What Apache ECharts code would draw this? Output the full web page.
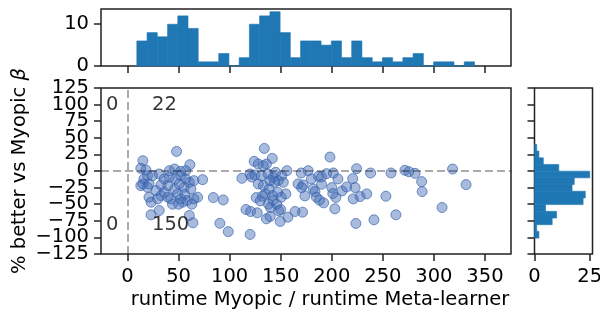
<!DOCTYPE html>
<html><head><meta charset="utf-8">
<script src="https://cdn.jsdelivr.net/npm/echarts@6/dist/echarts.min.js"></script>
<style>html,body{margin:0;padding:0;background:#fff}#c{width:600px;height:314px}</style>
</head><body><div id="c"></div>
<script>
// ---- data ----
const xTicks = [0, 50, 100, 150, 200, 250, 300, 350];
const yTicks = [-125, -100, -75, -50, -25, 0, 25, 50, 75, 100, 125];
const yLabelsOdd = [-125, -75, -25, 25, 75, 125];
const yLabelsEven = [-100, -50, 0, 50, 100];
const topHistYTicks = [0, 10];
const rightHistXTicks = [0, 25];

const clusterA = [
  [15,15.5],[13,4],[18,1.5],[16,-12],[15,-19.5],[13,-22],
  [19.6,-7],[19.5,-24.5],[21,-19.5],[24.5,-7],[21,-39.5],[23,-47],[23,-66],[28,-29.5],
  [31,-4.5],[36,-32],[32.7,-37],[31,-59.5],[32.7,-21],[29.5,-42],[36,-12],
  [48,29.5],[41,0.5],[46,3],[41,-9.5],[47,-12],[46,-27],[39.5,-39.5],[42.5,-42],[39.5,-22],[44,-50],
  [52,-0.5],[57,0.5],[52,-7],[57,-12],[55.5,-24.5],[49,-34.5],[52,-42],[58.5,-44.5],[50.6,-19.5],[54,-47],[50,-50],[56,-35],
  [61,9.5],[60.5,-17],[65,-14.5],[62,-27],[65,-42],[68.6,-39.5],[60.5,-67],[64,-78],[63,-50]
];
const clusterTail = [[73.5,-13],[84,-40],[93.7,-43.6],[90.4,-78.8],[98.6,-91.3]];
const clusterB = [
  [112,-11],[116,-58],
  [120,-95.5],[120.5,-61],[127,-63],[124,14.5],[128,10.5],[120,-4.5],[124.7,-6],[121.5,-9],[128,-19.5],[126,-40],
  [133.9,34],[136,10.5],[133,8],[131,-7],[137.6,-4.5],[133,-22],[138.6,-27],[135,-34.5],[132,-38],[136,-72],[130,-45],[138,-50],
  [141.7,19],[142.5,-9.5],[147.6,-14.5],[139.5,-14.5],[144,-17],[142,-37],[147,-32],[142.5,-44.5],[139.6,-68.5],[145,-2],[140,-55],[146,-50],[148,-60],
  [151,-7],[156,0.5],[152.5,-17],[150.5,-39.5],[155,-34.5],[150,-58],[149.5,-76],[157,-69.5],
  [164,-61],[167,-19.5]
];
const clusterC = [
  [176.9,0.5],[172,-21],[170.5,-25],[171.4,-62],[173.7,-37.5],[170,-3],
  [181.8,-27],[183.5,-31],[185,-39.5],[188,-44],[180,-12],[187,-8],
  [198.2,21],[195,-4],[190,-20],[192,-48],[190,-9],
  [200,-25],[201,-34],[203,-57],[204,-40],[201.5,-3],[206,-12],
  [210,-30],[214.5,-24],
  [224.3,3.5],[223.6,-79],[220.5,-11.5],[222.8,-25],[221,-42],[227.7,-38.5],
  [234.2,-34.5],[238,-3],
  [241.3,-73.5],
  [253,-38],[258,-3],
  [262.8,-66],
  [271.6,1],[275.5,-1],
  [281.5,-3.5],[288,-16],[288.5,-31],
  [308,-55],
  [318.3,3],
  [331.5,-20.5]
];

const topBinEdges = [9.1,19.1,29.1,39.2,49.2,59.2,69.2,79.2,89.3,99.3,109.3,119.3,129.3,139.4,149.4,159.4,169.4,179.4,189.5,199.5,209.5,219.5,229.5,239.6,249.6,259.6,269.6,279.6,289.7,299.7,309.7,319.7,329.7,339.8];
const topCounts = [6,8,7,10,12,9,1,1,3,0,2,10,12,13,8,2,6,6,5,6,2,6,2,1,2,1,2,3,0,1,1,0,1];

const rightBinEdges = [-101,-90.9,-80.9,-70.8,-60.7,-50.6,-40.5,-30.5,-20.4,-10.3,-0.2,9.9,19.9,30,40.1];
const rightCounts = [2,1,8,10,5,22,23,17,18,25,11,4,2,1];

const annotations = [[-21,100,'0'],[24,100,'22'],[-21,-81,'0'],[24,-81,'150']];

// ---- build ----
const points = clusterA.concat(clusterTail, clusterB, clusterC);
const topHist = topCounts.map((c, i) => [topBinEdges[i], topBinEdges[i+1], c]);
const rightHist = rightCounts.map((c, i) => [rightBinEdges[i], rightBinEdges[i+1], c]);

const FONT = 'DejaVu Sans';
const FS = 19.5;
const AX = '#222';
const tickStyle = {color: AX, width: 1.5};
const noLine = {show: false, onZero: false};
const gridBase = {show: true, borderColor: AX, borderWidth: 1.5, backgroundColor: 'transparent', containLabel: false, outerBoundsMode: 'none'};
const minus = v => String(v).replace('-', '\u2212');
const lbl = extra => Object.assign({fontSize: FS, color: '#000', fontFamily: FONT, hideOverlap: false, showMinLabel: true, showMaxLabel: true}, extra);

const chart = echarts.init(document.getElementById('c'), null, {renderer: 'canvas'});
chart.setOption({
  animation: false,
  backgroundColor: '#fff',
  textStyle: {fontFamily: FONT},
  grid: [
    Object.assign({left: 101, top: 88, width: 410, height: 166}, gridBase),
    Object.assign({left: 101, top: 9, width: 410, height: 57}, gridBase),
    Object.assign({left: 534.5, top: 88, width: 58, height: 166}, gridBase)
  ],
  xAxis: [
    {gridIndex: 0, type: 'value', min: -26, max: 375.5,
     axisLine: noLine, splitLine: {show: false},
     axisTick: {show: true, customValues: xTicks, length: 7, lineStyle: tickStyle},
     axisLabel: lbl({customValues: xTicks, margin: 13})},
    {gridIndex: 1, type: 'value', min: -26, max: 375.5,
     axisLine: noLine, splitLine: {show: false},
     axisTick: {show: true, customValues: xTicks, length: 7, lineStyle: tickStyle},
     axisLabel: {show: false}},
    {gridIndex: 2, type: 'value', min: 0, max: 26.25,
     axisLine: noLine, splitLine: {show: false},
     axisTick: {show: true, customValues: rightHistXTicks, length: 7, lineStyle: tickStyle},
     axisLabel: lbl({customValues: rightHistXTicks, margin: 13})}
  ],
  yAxis: [
    {gridIndex: 0, type: 'value', min: -125, max: 125, position: 'left',
     axisLine: noLine, splitLine: {show: false},
     axisTick: {show: true, customValues: yTicks, length: 7, lineStyle: tickStyle},
     axisLabel: lbl({customValues: yLabelsOdd, margin: 12, formatter: v => minus(v)})},
    {gridIndex: 1, type: 'value', min: 0, max: 13.65,
     axisLine: noLine, splitLine: {show: false},
     axisTick: {show: true, customValues: topHistYTicks, length: 7, lineStyle: tickStyle},
     axisLabel: lbl({customValues: topHistYTicks, margin: 12})},
    {gridIndex: 2, type: 'value', min: -125, max: 125,
     axisLine: noLine, splitLine: {show: false},
     axisTick: {show: true, customValues: yTicks, length: 7, lineStyle: tickStyle},
     axisLabel: {show: false}},
    {gridIndex: 0, type: 'value', min: -125, max: 125, position: 'left', offset: 0,
     axisLine: noLine, splitLine: {show: false}, axisTick: {show: false},
     axisLabel: lbl({customValues: yLabelsEven, margin: 12, formatter: v => minus(v)})}
  ],
  series: [
    {type: 'scatter', xAxisIndex: 0, yAxisIndex: 0, data: points, symbolSize: 10, z: 2,
     itemStyle: {color: 'rgba(66,108,182,0.58)', borderColor: 'rgba(56,98,172,0.85)', borderWidth: 1},
     markLine: {silent: true, symbol: 'none', z: 5, label: {show: false},
       lineStyle: {color: 'rgba(0,0,0,0.33)', width: 2, type: [8, 4]},
       data: [{xAxis: 0}, {yAxis: 0}]}},
    {type: 'scatter', xAxisIndex: 0, yAxisIndex: 0, data: annotations, symbolSize: 0, z: 6, silent: true,
     label: {show: true, position: 'right', distance: 0, fontSize: FS, color: '#000', fontFamily: FONT,
             formatter: p => p.value[2]}},
    {type: 'custom', xAxisIndex: 1, yAxisIndex: 1, data: topHist, encode: {x: [0, 1], y: 2},
     renderItem: (params, api) => {
       const p0 = api.coord([api.value(0), api.value(2)]);
       const p1 = api.coord([api.value(1), 0]);
       return {type: 'rect', shape: {x: p0[0], y: p0[1], width: p1[0] - p0[0], height: p1[1] - p0[1]},
               style: {fill: '#1f77b4', stroke: '#1f77b4', lineWidth: 0.6}};
     }},
    {type: 'custom', xAxisIndex: 2, yAxisIndex: 2, data: rightHist, encode: {x: 2, y: [0, 1]},
     renderItem: (params, api) => {
       const p0 = api.coord([0, api.value(1)]);
       const p1 = api.coord([api.value(2), api.value(0)]);
       return {type: 'rect', shape: {x: p0[0], y: p0[1], width: p1[0] - p0[0], height: p1[1] - p0[1]},
               style: {fill: '#1f77b4', stroke: '#1f77b4', lineWidth: 0.6}};
     }}
  ],
  graphic: [
    {type: 'text', x: 20, y: 171, rotation: Math.PI / 2,
     style: {text: '% better vs Myopic {b|β}', fontSize: FS, fontFamily: FONT, fill: '#000',
             align: 'center', verticalAlign: 'middle',
             rich: {b: {fontStyle: 'italic', fontSize: FS, fontFamily: FONT, fill: '#000'}}}},
    {type: 'text', x: 320, y: 300,
     style: {text: 'runtime Myopic / runtime Meta-learner', fontSize: FS, fontFamily: FONT, fill: '#000',
             align: 'center', verticalAlign: 'middle'}}
  ]
});
</script></body></html>
